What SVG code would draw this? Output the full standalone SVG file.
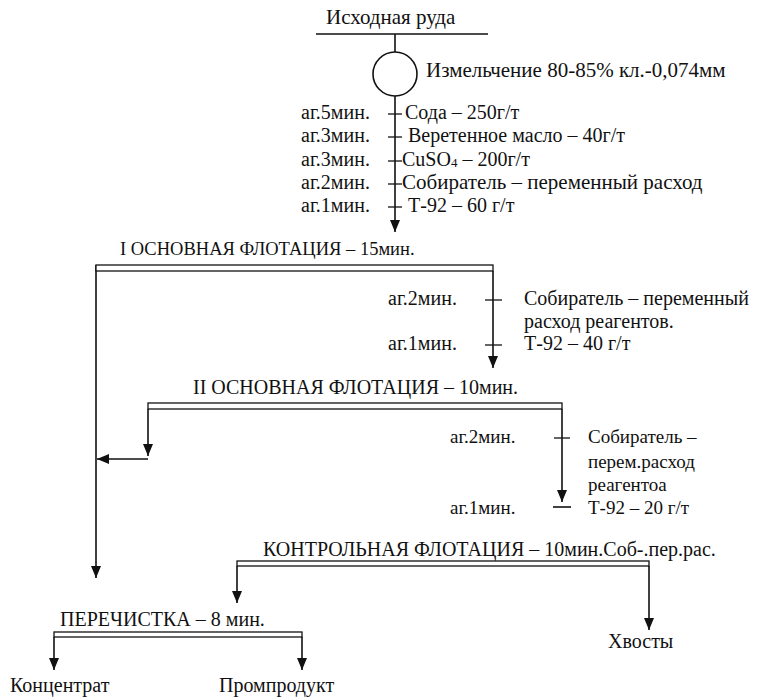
<svg xmlns="http://www.w3.org/2000/svg" width="763" height="699" viewBox="0 0 763 699">
<defs>
<marker id="ah" viewBox="0 0 12 10" refX="12" refY="5" markerWidth="12" markerHeight="10" markerUnits="userSpaceOnUse" orient="auto">
<path d="M0,0 L12,5 L0,10 z" fill="#111"/>
</marker>
</defs>
<style>
text{font-family:"Liberation Serif","Times New Roman",serif;font-size:20px;fill:#111}
.big{font-size:21px}
.hd1{font-size:18.5px}
.s3{font-size:19px}
.ln{stroke:#111;stroke-width:1.6;fill:none}
.ar{stroke:#111;stroke-width:1.6;fill:none;marker-end:url(#ah)}
.tk{stroke:#111;stroke-width:1.3}
.dl{stroke:#111;stroke-width:1.3;fill:#fff}
.sub{font-size:13px}
</style>
<rect width="763" height="699" fill="#fff"/>

<g id="connectors">
<line class="ln" x1="395" y1="34" x2="395" y2="52"/>
<line class="ar" x1="395" y1="96" x2="395" y2="232"/>
<line class="ar" x1="96" y1="265" x2="96" y2="578"/>
<line class="ar" x1="493" y1="271" x2="493" y2="368"/>
<line class="ar" x1="148" y1="409" x2="148" y2="456"/>
<polyline class="ar" points="148,459 97,459"/>
<line class="ar" x1="562" y1="409" x2="562" y2="502"/>
<line class="ar" x1="237" y1="566" x2="237" y2="603"/>
<line class="ar" x1="649" y1="566" x2="649" y2="630"/>
<line class="ar" x1="54" y1="637" x2="54" y2="670"/>
<line class="ar" x1="302" y1="637" x2="302" y2="670"/>
</g>

<g id="ore">
<text class="big" x="326" y="24">Исходная руда</text>
<line class="ln" x1="316" y1="34" x2="488" y2="34"/>
</g>

<g id="grinding">
<circle cx="395" cy="74" r="22" class="ln"/>
<text class="big" x="426" y="77">Измельчение 80-85% кл.-0,074мм</text>
</g>

<g id="reagents1">
<text x="301" y="119">аг.5мин.</text>
<text x="301" y="142">аг.3мин.</text>
<text x="301" y="166">аг.3мин.</text>
<text x="301" y="189">аг.2мин.</text>
<text x="301" y="212">аг.1мин.</text>
<line class="tk" x1="388" y1="114" x2="402" y2="114"/>
<line class="tk" x1="388" y1="137" x2="402" y2="137"/>
<line class="tk" x1="388" y1="161" x2="402" y2="161"/>
<line class="tk" x1="388" y1="184" x2="402" y2="184"/>
<line class="tk" x1="388" y1="207" x2="402" y2="207"/>
<text x="405" y="119">Сода – 250г/т</text>
<text x="408" y="142">Веретенное масло – 40г/т</text>
<text x="402" y="166">CuSO<tspan class="sub" dy="1">4</tspan><tspan dy="-1"> – 200г/т</tspan></text>
<text class="big" x="402" y="189">Собиратель – переменный расход</text>
<text x="408" y="212">Т-92 – 60 г/т</text>
</g>

<g id="flotation1">
<text class="hd1" x="120" y="255">I ОСНОВНАЯ ФЛОТАЦИЯ – 15мин.</text>
<rect class="dl" x="96" y="265" width="397" height="6"/>
</g>

<g id="reagents2">
<text x="388" y="305">аг.2мин.</text>
<text x="388" y="350">аг.1мин.</text>
<line class="tk" x1="485" y1="300" x2="502" y2="300"/>
<line class="tk" x1="485" y1="345" x2="502" y2="345"/>
<text x="524" y="305">Собиратель – переменный</text>
<text x="524" y="328">расход реагентов.</text>
<text x="524" y="350">Т-92 – 40 г/т</text>
</g>

<g id="flotation2">
<text x="193" y="394">II ОСНОВНАЯ ФЛОТАЦИЯ – 10мин.</text>
<rect class="dl" x="148" y="403" width="414" height="6"/>
</g>

<g id="reagents3">
<text class="s3" x="450" y="443">аг.2мин.</text>
<text class="s3" x="450" y="514">аг.1мин.</text>
<line class="tk" x1="554" y1="438" x2="570" y2="438"/>
<line class="ln" x1="553" y1="507" x2="571" y2="507"/>
<text class="s3" x="588" y="443">Собиратель –</text>
<text class="s3" x="588" y="468">перем.расход</text>
<text class="s3" x="588" y="491">реагентоа</text>
<text class="s3" x="588" y="514">Т-92 – 20 г/т</text>
</g>

<g id="control">
<text x="263" y="556">КОНТРОЛЬНАЯ ФЛОТАЦИЯ – 10мин.Соб-.пер.рас.</text>
<rect class="dl" x="237" y="561" width="412" height="5"/>
</g>

<g id="cleaning">
<text x="60" y="626">ПЕРЕЧИСТКА – 8 мин.</text>
<rect class="dl" x="54" y="632" width="248" height="5"/>
</g>

<g id="tails"><text x="608" y="648">Хвосты</text></g>
<g id="concentrate"><text x="10" y="692">Концентрат</text></g>
<g id="middlings"><text x="219" y="692">Промпродукт</text></g>
</svg>
